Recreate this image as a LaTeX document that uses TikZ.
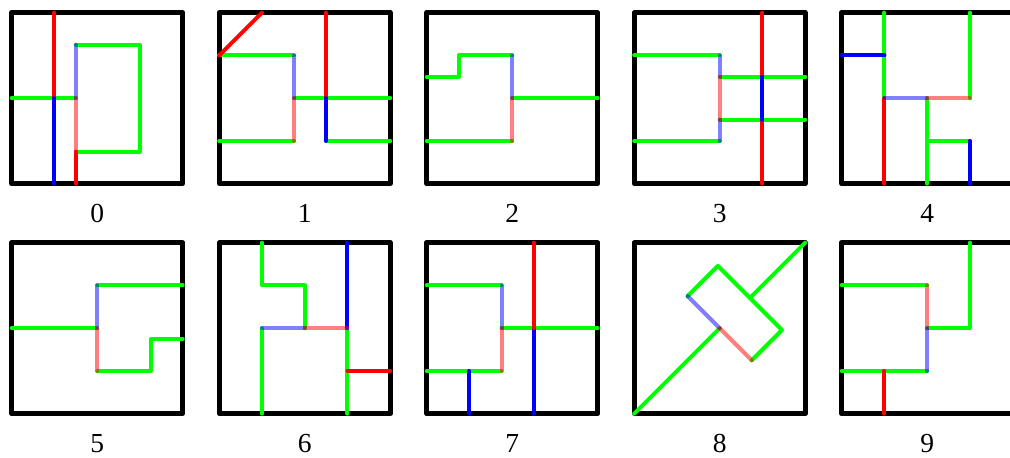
\documentclass[tikz,border=0pt]{standalone}
\usepackage{fontspec}
\setmainfont{Liberation Serif}
\definecolor{cgreen}{RGB}{0,255,0}
\definecolor{cred}{RGB}{255,0,0}
\definecolor{cblue}{RGB}{0,0,255}
\newcommand\pnl[4]{%
  \begin{scope}[shift={({11.7+207.5*#1},{12.7+230*#2})},x=42.75pt,y=-42.75pt]
    \draw[frame] (0,0) rectangle (4,4);
    #4
    \node[lab] (lab#3) at (2,4.69) {#3};
  \end{scope}}
\begin{document}
\begin{tikzpicture}[x=1pt,y=-1pt,
  frame/.style={draw=black,line width=5pt,line join=round},
  ln/.style={line width=4pt,line cap=round,line join=round},
  g/.style={ln,draw=cgreen},
  r/.style={ln,draw=cred},
  b/.style={ln,draw=cblue},
  hr/.style={ln,draw=cred,draw opacity=0.5},
  hb/.style={ln,draw=cblue,draw opacity=0.5},
  lab/.style={font=\fontsize{27.5}{30}\selectfont,inner sep=0pt}]
\useasboundingbox (0,0) rectangle (1010,458);
\clip (0,0) rectangle (1010,458);
\pnl{0}{0}{0}{
  \draw[g] (0,2)--(1.5,2);
  \draw[g] (1.5,0.75)--(3,0.75)--(3,3.25)--(1.5,3.25);
  \draw[r] (1,0)--(1,2);
  \draw[b] (1,2)--(1,4);
  \draw[r] (1.5,3.25)--(1.5,4);
  \draw[hb] (1.5,0.75)--(1.5,2);
  \draw[hr] (1.5,2)--(1.5,3.25);
}
\pnl{1}{0}{1}{
  \draw[g] (0,1)--(1.75,1) (0,3)--(1.75,3) (1.75,2)--(4,2) (2.5,3)--(4,3);
  \draw[r] (0,1)--(1,0);
  \draw[r] (2.5,0)--(2.5,2);
  \draw[b] (2.5,2)--(2.5,3);
  \draw[hb] (1.75,1)--(1.75,2);
  \draw[hr] (1.75,2)--(1.75,3);
}
\pnl{2}{0}{2}{
  \draw[g] (0,1.5)--(0.75,1.5)--(0.75,1)--(2,1);
  \draw[g] (2,2)--(4,2) (0,3)--(2,3);
  \draw[hb] (2,1)--(2,2);
  \draw[hr] (2,2)--(2,3);
}
\pnl{3}{0}{3}{
  \draw[g] (0,1)--(2,1) (0,3)--(2,3) (2,1.5)--(4,1.5) (2,2.5)--(4,2.5);
  \draw[r] (3,0)--(3,1.5) (3,2.5)--(3,4);
  \draw[b] (3,1.5)--(3,2.5);
  \draw[hb] (2,1)--(2,1.5);
  \draw[hb] (2,2.5)--(2,3);
  \draw[hr] (2,1.5)--(2,2.5);
}
\pnl{4}{0}{4}{
  \draw[g] (1,0)--(1,2) (3,0)--(3,2) (2,2)--(2,4) (2,3)--(3,3);
  \draw[b] (0,1)--(1,1) (3,3)--(3,4);
  \draw[r] (1,2)--(1,4);
  \draw[hb] (1,2)--(2,2);
  \draw[hr] (2,2)--(3,2);
}
\pnl{0}{1}{5}{
  \draw[g] (0,2)--(2,2) (2,1)--(4,1);
  \draw[g] (2,3)--(3.25,3)--(3.25,2.25)--(4,2.25);
  \draw[hb] (2,1)--(2,2);
  \draw[hr] (2,2)--(2,3);
}
\pnl{1}{1}{6}{
  \draw[g] (1,0)--(1,1)--(2,1)--(2,2);
  \draw[g] (1,2)--(1,4) (3,2)--(3,4);
  \draw[b] (3,0)--(3,2);
  \draw[r] (3,3)--(4,3);
  \draw[hb] (1,2)--(2,2);
  \draw[hr] (2,2)--(3,2);
}
\pnl{2}{1}{7}{
  \draw[g] (0,1)--(1.75,1) (1.75,2)--(4,2) (0,3)--(1.75,3);
  \draw[b] (1,3)--(1,4) (2.5,2)--(2.5,4);
  \draw[r] (2.5,0)--(2.5,2);
  \draw[hb] (1.75,1)--(1.75,2);
  \draw[hr] (1.75,2)--(1.75,3);
}
\pnl{3}{1}{8}{
  \draw[g] (0,4)--(2,2);
  \draw[g] (1.25,1.25)--(1.957,0.543)--(3.457,2.043)--(2.75,2.75);
  \draw[g] (2.707,1.293)--(4,0);
  \draw[hb] (1.25,1.25)--(2,2);
  \draw[hr] (2,2)--(2.75,2.75);
}
\pnl{4}{1}{9}{
  \draw[g] (0,1)--(2,1) (0,3)--(2,3);
  \draw[g] (2,2)--(3,2)--(3,0);
  \draw[r] (1,3)--(1,4);
  \draw[hr] (2,1)--(2,2);
  \draw[hb] (2,2)--(2,3);
}
\end{tikzpicture}
\end{document}
